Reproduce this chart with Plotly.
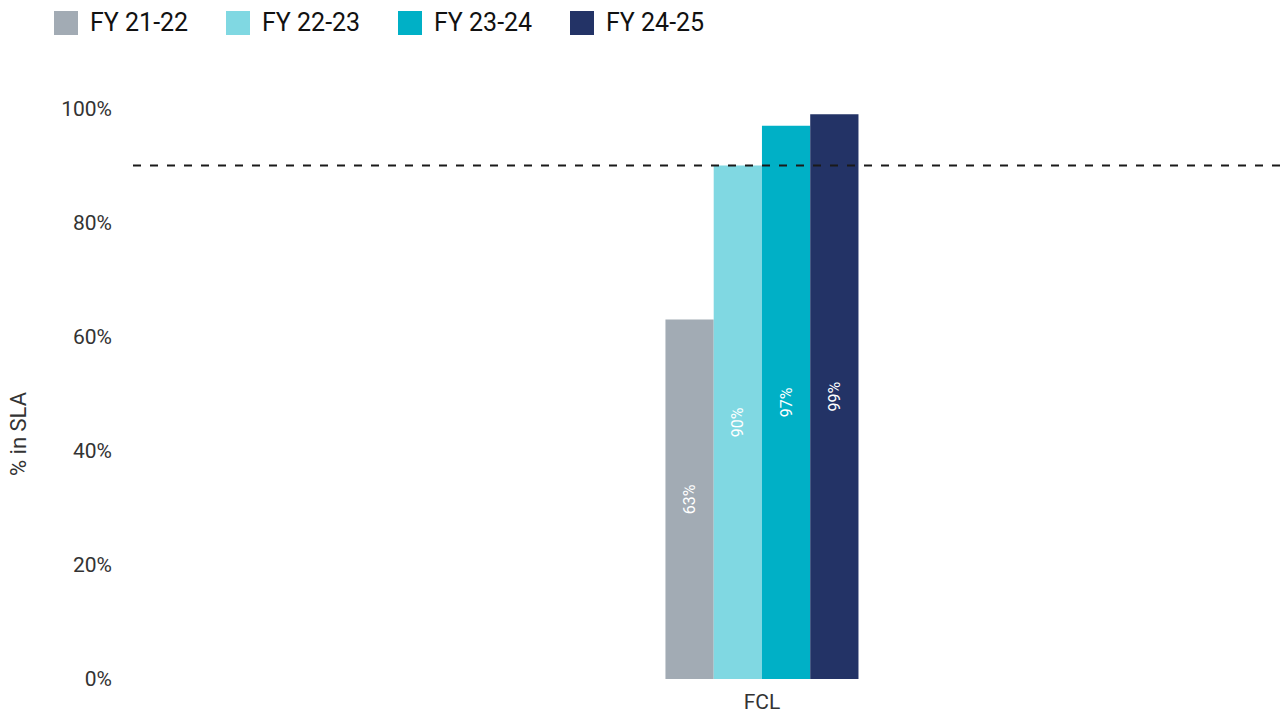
import plotly.graph_objects as go

# Share of requests resolved within SLA, by financial year
categories = ["FCL"]
years = ["FY 21-22", "FY 22-23", "FY 23-24", "FY 24-25"]
sla_pct = [63, 90, 97, 99]
target_pct = 90
colors = ["#A2ABB4", "#80D8E2", "#00B0C6", "#233366"]

y_ticks = [0, 20, 40, 60, 80, 100]
y_tick_text = [f"{v}%" for v in y_ticks]

FONT = "Roboto, 'Open Sans', sans-serif"
W, H = 1282, 716
M_L, M_R, M_T, M_B = 133, 0, 80, 37
PLOT_W = W - M_L - M_R
PLOT_H = H - M_T - M_B


def px_x(px):
    """Pixel x from the left edge -> paper x."""
    return (px - M_L) / PLOT_W


def px_y(py):
    """Pixel y from the top edge -> paper y."""
    return (H - M_B - py) / PLOT_H


fig = go.Figure()

for name, val, col in zip(years, sla_pct, colors):
    fig.add_trace(go.Bar(
        x=categories,
        y=[val],
        name=name,
        showlegend=False,
        marker=dict(color=col, line=dict(width=0)),
        text=[f"{val}%"],
        textposition="inside",
        insidetextanchor="middle",
        textangle=-90,
        textfont=dict(color="white", size=16, family=FONT),
        hovertemplate="%{x}: %{y}%<extra>" + name + "</extra>",
    ))

# target line across the plot
fig.add_shape(
    type="line", xref="paper", x0=0, x1=1, yref="y", y0=target_pct, y1=target_pct,
    line=dict(color="#1a1a1a", width=2, dash="8px,9px"),
)

# legend row: large square swatches with labels
annotations = []
for i, (name, col) in enumerate(zip(years, colors)):
    left = 54 + i * 172
    fig.add_shape(
        type="rect", xref="paper", yref="paper",
        x0=px_x(left), x1=px_x(left + 24), y0=px_y(35), y1=px_y(11),
        fillcolor=col, line=dict(width=0), layer="above",
    )
    annotations.append(dict(
        xref="paper", yref="paper", x=px_x(left + 34), y=px_y(23),
        xanchor="left", yanchor="middle", showarrow=False,
        text=name, font=dict(size=25, color="#111111", family=FONT),
    ))

# y-axis title
annotations.append(dict(
    xref="paper", yref="paper", x=px_x(18), y=px_y(434),
    xanchor="center", yanchor="middle", showarrow=False, textangle=-90,
    text="% in SLA", font=dict(size=22, color="#333333", family=FONT),
))

fig.update_layout(
    width=W, height=H,
    margin=dict(l=M_L, r=M_R, t=M_T, b=M_B),
    paper_bgcolor="white",
    plot_bgcolor="white",
    barmode="group",
    bargap=0.832,
    bargroupgap=0,
    showlegend=False,
    font=dict(family=FONT, size=21, color="#333333"),
    annotations=annotations,
    xaxis=dict(
        type="category",
        range=[-0.5474, 0.4526],
        showgrid=False, zeroline=False, showline=False,
        ticks="", ticklabelstandoff=8,
        tickfont=dict(size=21, color="#333333"),
    ),
    yaxis=dict(
        range=[0, 105],
        tickvals=y_ticks, ticktext=y_tick_text,
        showgrid=False, zeroline=False, showline=False,
        ticks="", ticklabelstandoff=20,
        tickfont=dict(size=21, color="#333333"),
    ),
)

fig.write_html("out.html")
